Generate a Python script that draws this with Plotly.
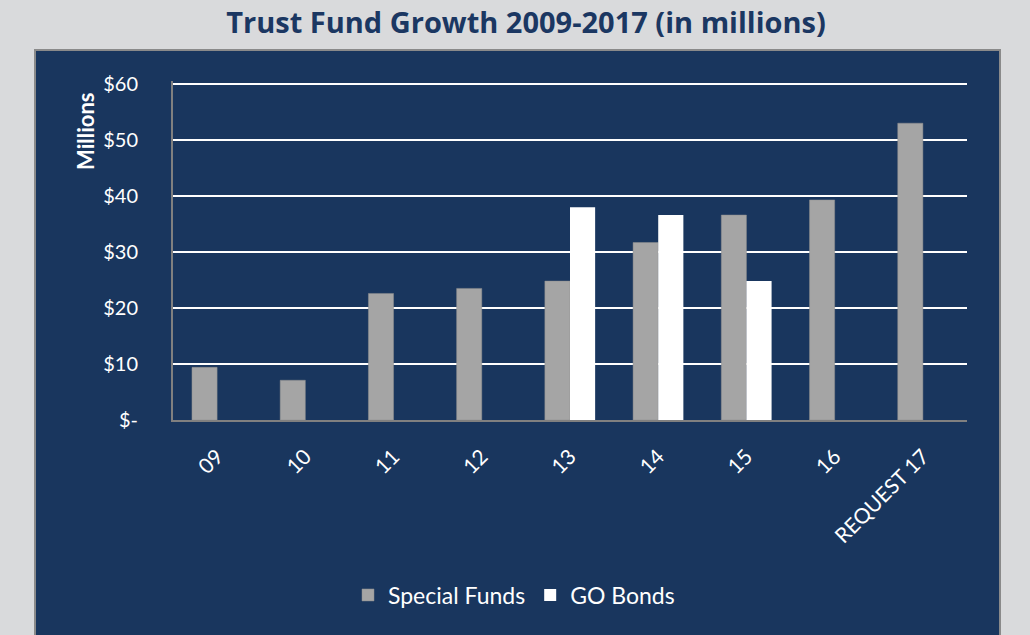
import plotly.graph_objects as go

categories = ["09", "10", "11", "12", "13", "14", "15", "16", "REQUEST 17"]
special_funds = [9.4, 7.1, 22.6, 23.5, 24.8, 31.7, 36.6, 39.3, 53.0]
go_bonds = [None, None, None, None, 38.0, 36.6, 24.8, None, None]
tick_vals = [0, 10, 20, 30, 40, 50, 60]
tick_text = ["$-", "$10", "$20", "$30", "$40", "$50", "$60"]

W, H = 1030, 635
L, R, T, B = 173, 63, 81, 215
pw, ph = W - L - R, H - T - B
PX_PER_UNIT = 5.6
y_top = ph / PX_PER_UNIT

def px_x(x):
    return (x - L) / pw

def px_y(y):
    return (H - B - y) / ph

NAVY = "#19365e"
fig = go.Figure()
fig.add_trace(go.Bar(name="Special Funds", x=categories, y=special_funds,
                     marker=dict(color="#a5a5a5", line=dict(color="#8f8f8f", width=0.5))))
fig.add_trace(go.Bar(name="GO Bonds", x=categories, y=go_bonds,
                     marker=dict(color="#ffffff", line=dict(width=0))))

fig.add_shape(type="rect", xref="paper", yref="paper",
              x0=px_x(35), x1=px_x(1000), y0=px_y(650), y1=px_y(50),
              fillcolor=NAVY, line=dict(color="#8a8a8a", width=2), layer="below")

fig.add_annotation(text="<b>Millions</b>", xref="paper", yref="paper",
                   x=px_x(85), y=px_y(132), textangle=-90, showarrow=False,
                   xanchor="center", yanchor="middle",
                   font=dict(family="Lato", size=22, color="white"))

fig.update_layout(
    width=W, height=H,
    margin=dict(l=L, r=R, t=T, b=B, autoexpand=False),
    paper_bgcolor="#d9dadc",
    plot_bgcolor=NAVY,
    barmode="group",
    bargap=0.43,
    bargroupgap=0,
    font=dict(family="Lato", color="white"),
    title=dict(text="<b>Trust Fund Growth 2009-2017 (in millions)</b>",
               x=526 / W, xref="container", xanchor="center", y=1 - 23 / H, yref="container",
               yanchor="middle",
               font=dict(family="Open Sans", size=29, color="#1b3762")),
    xaxis=dict(showline=True, linecolor="#808080", linewidth=2,
               tickangle=-45, tickfont=dict(family="Lato", size=21, color="white"),
               ticks="", showgrid=False, ticklabelstandoff=14),
    yaxis=dict(range=[0, y_top], tickvals=tick_vals, ticktext=tick_text,
               showline=True, linecolor="#808080", linewidth=2,
               gridcolor="white", gridwidth=2, zeroline=False,
               tickfont=dict(family="Lato", size=20, color="white"),
               ticks="", ticklen=0, ticklabelstandoff=29),
    legend=dict(orientation="h", x=px_x(514), xanchor="center", y=px_y(595), yanchor="middle",
                font=dict(family="Lato", size=23, color="white"),
                bgcolor="rgba(0,0,0,0)", itemwidth=30),
    showlegend=True,
)

fig.write_html("out.html", config={"displayModeBar": False},
               post_script="document.body.style.margin='0';document.body.style.padding='0';")
